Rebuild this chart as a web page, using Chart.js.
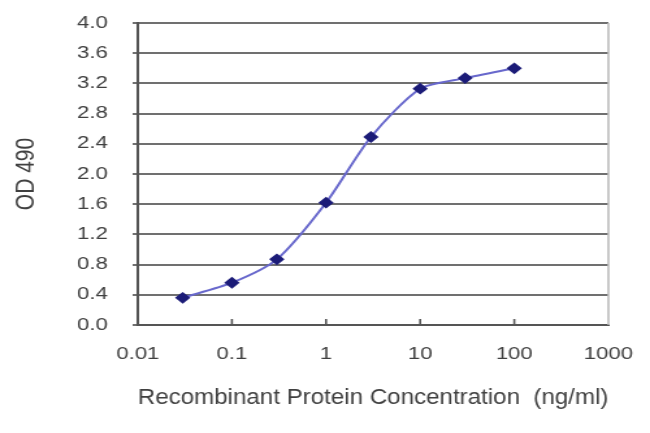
<!DOCTYPE html>
<html>
<head>
<meta charset="utf-8">
<script src="https://cdn.jsdelivr.net/npm/chart.js@4"></script>
<style>
  html, body { margin: 0; padding: 0; background: #fff; }
  #wrap { width: 650px; height: 433px; }
  /* the original picture is stretched sideways, so draw narrow and widen */
  #odChart { width: 650px; height: 433px; display: block; }
</style>
</head>
<body>
<div id="wrap"><canvas id="odChart" width="500" height="433" style="width:650px;height:433px"></canvas></div>
<script>
// concentration (ng/ml) and measured OD 490
let concentrations = [0.03, 0.1, 0.3, 1, 3, 10, 30, 100];
let odValues = [0.36, 0.56, 0.87, 1.62, 2.49, 3.13, 3.27, 3.40];
let xTicks = [0.01, 0.1, 1, 10, 100, 1000];
let yTicks = [0.0, 0.4, 0.8, 1.2, 1.6, 2.0, 2.4, 2.8, 3.2, 3.6, 4.0];

let textColor = '#404040';
let fontFamily = '"Liberation Sans", Arial, sans-serif';

// small tick marks pointing up into the plot from the x axis
let innerTicks = {
  id: 'innerTicks',
  afterDraw(chart) {
    let ctx = chart.ctx;
    let xs = chart.scales.x;
    let bottom = chart.chartArea.bottom;
    ctx.save();
    ctx.strokeStyle = '#555';
    ctx.lineWidth = 1.6;
    xTicks.slice(1, -1).forEach(v => {
      let px = xs.getPixelForValue(v);
      ctx.beginPath();
      ctx.moveTo(px, bottom);
      ctx.lineTo(px, bottom - 6);
      ctx.stroke();
    });
    // light right border
    ctx.strokeStyle = '#bbb';
    ctx.lineWidth = 1.6;
    ctx.beginPath();
    ctx.moveTo(chart.chartArea.right, chart.chartArea.top);
    ctx.lineTo(chart.chartArea.right, bottom);
    ctx.stroke();
    ctx.restore();
  }
};

let ctx = document.getElementById('odChart').getContext('2d');
let odChart = new Chart(ctx, {
  type: 'line',
  data: {
    datasets: [{
      label: 'OD 490',
      data: concentrations.map((c, i) => ({ x: c, y: odValues[i] })),
      borderColor: '#6868cc',
      borderWidth: 2,
      tension: 0.25,
      pointStyle: 'rectRot',
      pointRadius: 4.5,
      pointBackgroundColor: '#1c1c78',
      pointBorderColor: '#1c1c78',
      fill: false
    }]
  },
  options: {
    responsive: false,
    animation: false,
    devicePixelRatio: 1,
    layout: { padding: { top: 23, right: 32, left: 0, bottom: 0 } },
    plugins: {
      legend: { display: false },
      tooltip: { enabled: false }
    },
    scales: {
      x: {
        type: 'logarithmic',
        min: 0.01,
        max: 1000,
        afterBuildTicks: axis => { axis.ticks = xTicks.map(v => ({ value: v })); },
        afterFit: axis => {
          axis.height = 108;
          axis.paddingLeft = 0;
          axis.paddingRight = 0;
        },
        grid: { display: true, drawOnChartArea: false, drawTicks: false },
        border: { display: true, color: '#555', width: 2 },
        ticks: {
          autoSkip: false,
          maxRotation: 0,
          padding: 19,
          color: textColor,
          font: { family: fontFamily, size: 17 },
          callback: v => String(v)
        },
        title: {
          display: true,
          text: 'Recombinant Protein Concentration  (ng/ml)',
          color: textColor,
          font: { family: fontFamily, size: 21.5 },
          padding: { top: 0, bottom: 22 }
        }
      },
      y: {
        min: 0,
        max: 4,
        afterBuildTicks: axis => { axis.ticks = yTicks.map(v => ({ value: v })); },
        afterFit: axis => {
          axis.width = 106;
          axis.paddingTop = 0;
          axis.paddingBottom = 0;
        },
        grid: { color: '#707070', lineWidth: 2, tickLength: 4 },
        border: { display: true, color: '#555', width: 2 },
        ticks: {
          padding: 19,
          color: textColor,
          font: { family: fontFamily, size: 17 },
          callback: v => v.toFixed(1)
        },
        title: {
          display: true,
          text: 'OD 490',
          color: textColor,
          font: { family: fontFamily, size: 21 },
          padding: { top: 8, bottom: 0 }
        }
      }
    }
  },
  plugins: [innerTicks]
});
</script>
</body>
</html>
